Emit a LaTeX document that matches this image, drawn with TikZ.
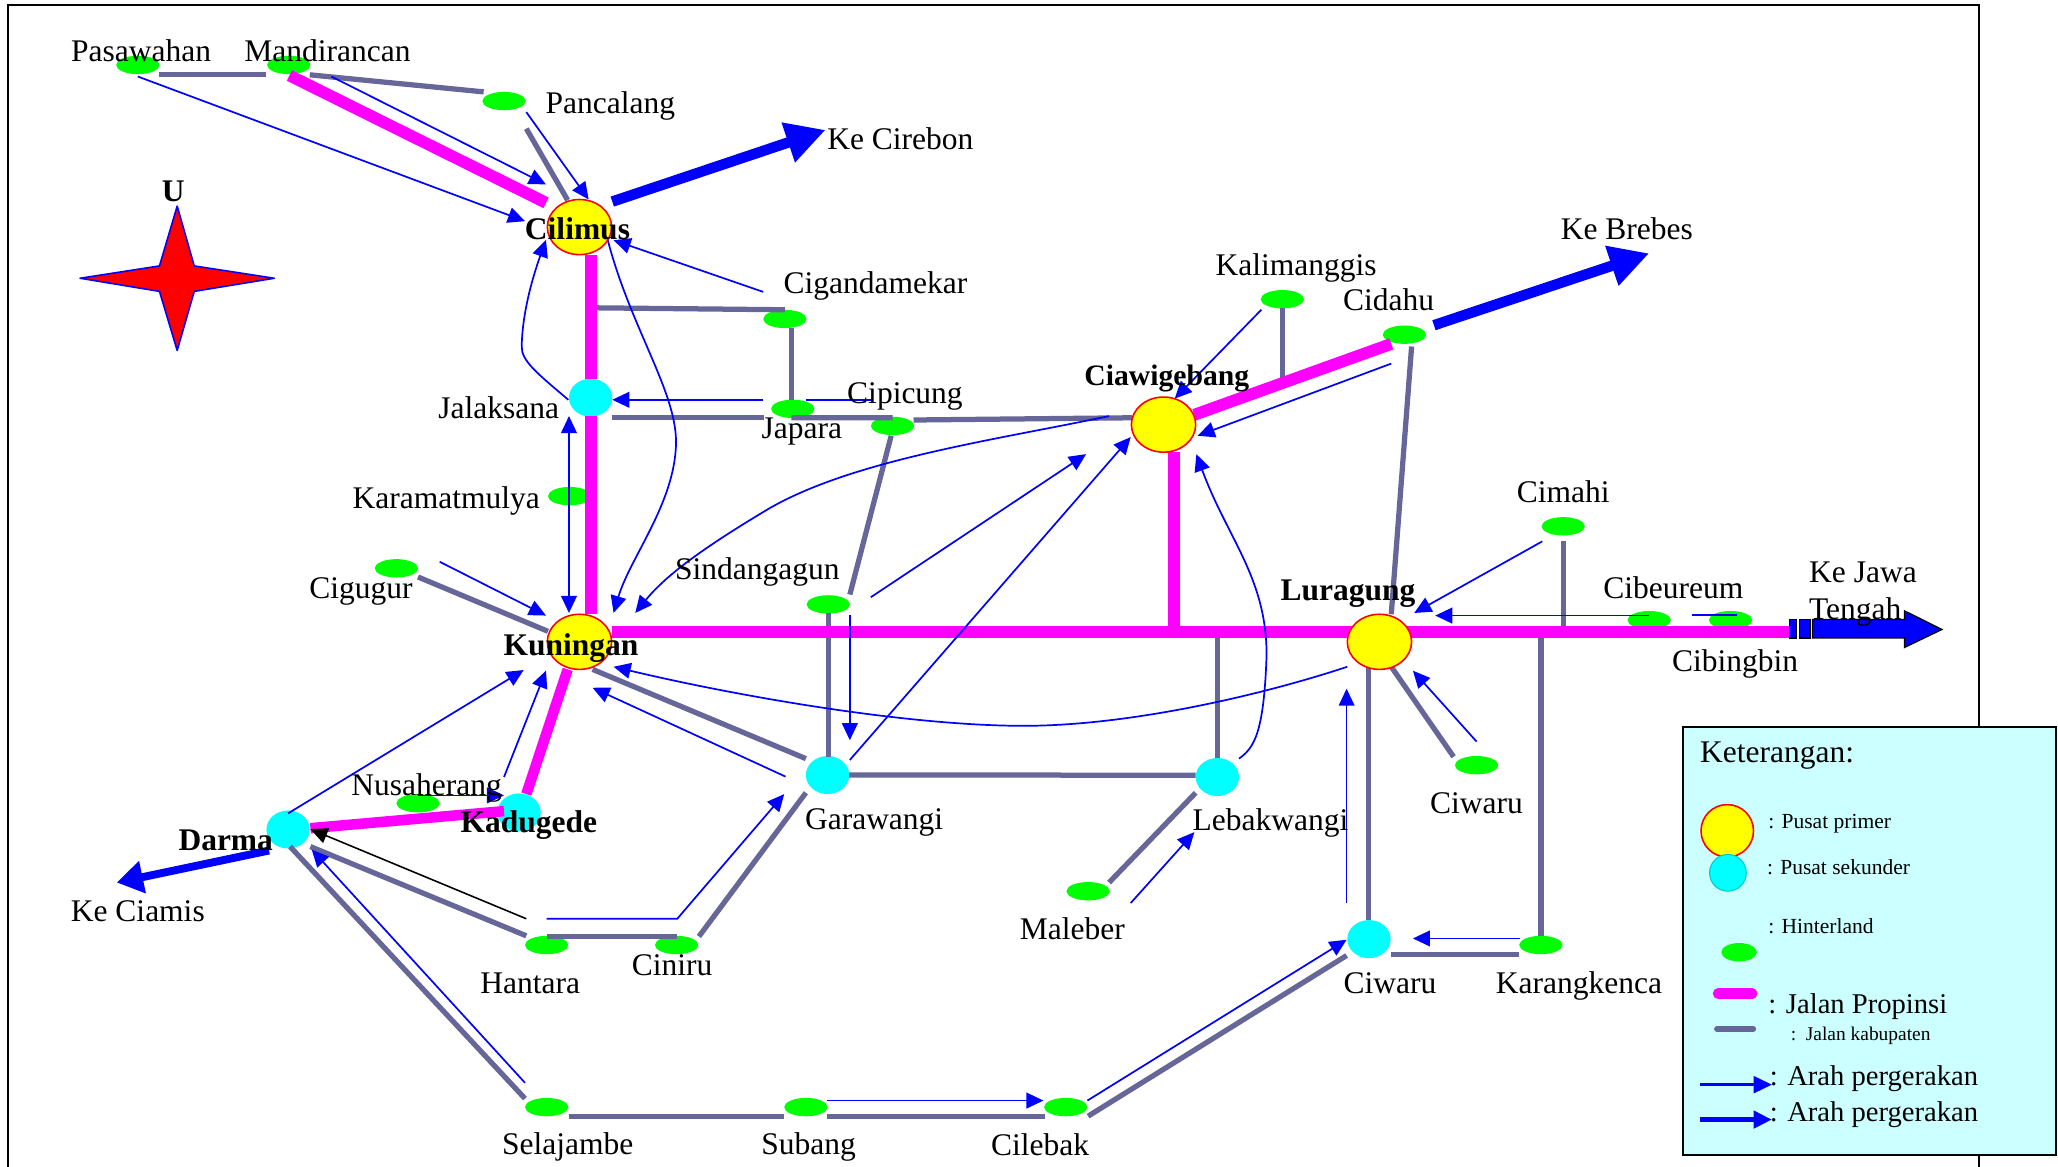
\documentclass[tikz,border=0pt]{standalone}
\usepackage{fontspec}
\setmainfont{Liberation Serif}
\usetikzlibrary{arrows.meta,calc}
\definecolor{roadgray}{HTML}{666699}
\definecolor{propinsi}{HTML}{FF00FF}
\definecolor{hgreen}{HTML}{00FF00}
\definecolor{scyan}{HTML}{00FFFF}
\definecolor{pyellow}{HTML}{FFFF00}
\definecolor{pblue}{HTML}{0000FF}
\definecolor{legendbg}{HTML}{CCFFFF}
\usetikzlibrary{shapes.geometric}
\tikzset{
  hinter/.style={ellipse,fill=hgreen,inner sep=0pt,minimum width=16.5pt,minimum height=7pt},
  sekunder/.style={ellipse,fill=scyan,inner sep=0pt,minimum width=16.5pt,minimum height=14.5pt},
  primer/.style={ellipse,fill=pyellow,draw=red,line width=0.6pt,inner sep=0pt,minimum width=24.5pt,minimum height=21pt},
  kab/.style={draw=roadgray,line width=2pt},
  prop/.style={draw=propinsi,line width=4.5pt},
  arah/.style={draw=pblue,line width=0.65pt,-{Triangle[length=6.5pt,width=6pt,fill=pblue]}},
  arahplain/.style={draw=pblue,line width=0.65pt},
  arahb/.style={draw=black,line width=0.6pt,-{Triangle[length=6.5pt,width=6pt,fill=black]}},
  besar/.style={draw=pblue,line width=4pt,-{Triangle[length=15pt,width=15pt,fill=pblue]}},
  lab/.style={inner sep=0pt,font=\fontsize{12}{14}\selectfont,text=black},
  labb/.style={inner sep=0pt,font=\fontsize{12}{14}\selectfont\bfseries,text=black},
  legk/.style={inner sep=0pt,anchor=west,font=\fontsize{8.2}{10}\selectfont},
  legb/.style={inner sep=0pt,anchor=west,font=\fontsize{10.9}{13}\selectfont},
}
\begin{document}
\begin{tikzpicture}[x=0.5pt,y=-0.5pt]
\useasboundingbox (0,0) rectangle (1568,889);
% page frame
\draw[black,line width=0.9pt] (6,889) -- (6,3.8) -- (1508,3.8) -- (1508,889);
% nodes
\path
 node[hinter] (pas) at (105,49.5) {}
 node[hinter] (man) at (220,49.5) {}
 node[hinter] (pan) at (384,77) {}
 node[hinter] (cig) at (598,243) {}
 node[hinter] (jap) at (604,311.5) {}
 node[hinter] (cip) at (680,324.5) {}
 node[hinter] (kar) at (434,378) {}
 node[hinter] (gug) at (302,433) {}
 node[hinter] (sin) at (631,460.5) {}
 node[hinter] (nus) at (318.5,612) {}
 node[hinter] (kal) at (977,228) {}
 node[hinter] (cid) at (1070,255) {}
 node[hinter] (cim) at (1191,401) {}
 node[hinter] (cbr) at (1256.5,472.5) {}
 node[hinter] (cbb) at (1318.5,472.5) {}
 node[hinter] (cwr) at (1125,583) {}
 node[hinter] (mal) at (829,679) {}
 node[hinter] (krk) at (1174,720) {}
 node[hinter] (han) at (416.5,720) {}
 node[hinter] (cin) at (515.5,720) {}
 node[hinter] (sel) at (416.5,843.5) {}
 node[hinter] (sub) at (614,843.5) {}
 node[hinter] (cle) at (812,843.5) {}
 node[sekunder] (jal) at (450,303) {}
 node[sekunder] (kad) at (395.5,619) {}
 node[sekunder] (dar) at (219.5,632) {}
 node[sekunder] (gar) at (630.5,590.5) {}
 node[sekunder] (leb) at (927.5,592) {}
 node[sekunder] (cwb) at (1043,715.5) {};
% kabupaten roads
\draw[kab] ($(pas)+(16,7)$) -- ($(man)+(-17,7)$);
\draw[kab] ($(man)+(16,7.5)$) -- ($(pan)+(-15.5,-7)$);
\draw[kab] ($(pan)+(17,21)$) -- (432.5,152.5);
\coordinate (cigj) at (450,234.5);
\draw[kab] (cigj) -- ($(cig)+(0,-7)$);
\draw[kab] ($(cig)+(5,7)$) -- ($(jap)+(-1,-6.5)$);
\draw[kab] ($(jal)+(16.5,15.3)$) -- ($(jap)+(-22,6.8)$);
\draw[kab] ($(jap)+(-1,6.8)$) -- ($(cip)+(0,-6.2)$);
\draw[kab] ($(cip)+(16,-4.5)$) -- (862.5,318.3);
\draw[kab] ($(cip)+(-1,7.5)$) -- ($(sin)+(16.5,-7.5)$);
\draw[kab] ($(sin)+(0,6.5)$) -- ($(gar)+(0.5,-13.5)$);
\draw[kab] ($(gar)+(16.5,0)$) -- ($(leb)+(-16.5,-1.4)$);
\draw[kab] (927.5,480.5) -- ($(leb)+(0,-14.5)$);
\draw[kab] ($(mal)+(16,-6.6)$) -- ($(leb)+(-16.5,12)$);
\draw[kab] (451.5,510) -- ($(gar)+(-16.5,-12.5)$);
\draw[kab] ($(gar)+(-16.5,13.5)$) -- ($(cin)+(17,-6.5)$);
\draw[kab] ($(han)+(0,-6.5)$) -- ($(cin)+(0,-6.5)$);
\draw[kab] ($(han)+(-15.5,-7)$) -- ($(dar)+(17,13)$);
\draw[kab] ($(sel)+(-16.5,-6.5)$) -- ($(dar)+(1.5,13)$);
\draw[kab] ($(sel)+(17,6.9)$) -- ($(sub)+(-16.5,6.9)$);
\draw[kab] ($(sub)+(16,6.9)$) -- ($(cle)+(-16,6.9)$);
\draw[kab] ($(cle)+(17,6.9)$) -- ($(cwb)+(-17,12.5)$);
\draw[kab] ($(cwb)+(16.5,11.5)$) -- ($(krk)+(-16.5,7)$);
\draw[kab] ($(krk)+(0,-6.5)$) -- (1174,480.5);
\draw[kab] ($(cwb)+(-0.5,-14.5)$) -- (1042.5,508);
\draw[kab] (1060,508) -- ($(cwr)+(-17.5,-6.4)$);
\draw[kab] ($(cim)+(0.5,11.5)$) -- (1191.5,480);
\draw[kab] ($(cid)+(5.5,9)$) -- (1060,468);
\draw[kab] ($(kal)+(0,6.7)$) -- (977,288.6);
\draw[kab] ($(gug)+(16.5,6.6)$) -- (417.5,481);
% provincial roads
\draw[prop] ($(man)+(0.5,8)$) -- (416,154.5);
\draw[prop] (450,194.5) -- ($(jal)+(0,-14)$);
\draw[prop] ($(jal)+(0,14)$) -- (450,468);
\draw[prop] (466.5,481.7) -- (1030,481.7);
\draw[prop] (1070,481.4) -- (1363.5,481.4);
\draw[prop] (894.5,344.5) -- (894.5,481);
\draw[prop] (910,316) -- ($(cid)+(-10,7)$);
\draw[prop,line width=4pt] (432.5,510) -- ($(kad)+(5.5,-14)$);
\draw[prop,line width=4pt] ($(kad)+(-11.5,-1)$) -- ($(dar)+(17,-1)$);
% large arrows
\draw[besar] (466.5,153.6) -- (629,99) node[pos=1] (ecir) {};
\draw[besar] ($(cid)+(22.5,-7.2)$) -- (1256.5,193) node[pos=1] (ebre) {};
\draw[besar,line width=3pt,-{Triangle[length=10pt,width=12pt,fill=pblue]}] ($(dar)+(-14.5,16)$) -- (89,672.4) node[pos=1] (ecia) {};
% thin arrows
\draw[arah] ($(pas)+(0,8.8)$) -- (400,168.5);
\draw[arah] ($(man)+(32.5,8.8)$) -- (416,140.5);
\draw[arah] ($(pan)+(17,8.4)$) -- (448.5,152);
\draw[arah] ($(cig)+(-16.5,-20.6)$) -- (467.5,183);
\draw[arah] ($(jal)+(-17,1.6)$) .. controls (410,285) and (397,275) .. (397.5,263.8) .. controls (398,235) and (408,205) .. (416,182.8);
\draw[arah] (462.5,180.7) .. controls (480,250) and (517,300) .. (515,340) .. controls (513,385) and (480,425) .. (467.5,467);
\draw[arah] ($(jap)+(-22.5,-6.9)$) -- ($(jal)+(16.5,1.6)$);
\draw[arahplain] ($(jap)+(10,-6.9)$) -- ($(cip)+(-15,-19.9)$);
\draw[draw=pblue,line width=0.65pt,{Triangle[length=6.5pt,width=6pt,fill=pblue]}-{Triangle[length=6.5pt,width=6pt,fill=pblue]}] (433.5,317) -- (433.5,467);
\draw[arah] ($(gug)+(33,-5)$) -- (416,469);
\draw[arah] (845,317) .. controls (760,335) and (650,350) .. (585,388) .. controls (545,412) and (510,435) .. (484,467);
\draw[arah] ($(sin)+(32.5,-5.5)$) -- (827.5,346);
\draw[arah] ($(gar)+(17,-11.5)$) -- (861.5,333);
\draw[arah] ($(sin)+(16.5,8)$) -- ($(gar)+(17,-26.5)$);
\draw[arah] ($(gar)+(-32,1.2)$) -- (451.5,524);
\draw[arah] (1026.5,508) .. controls (960,530) and (860,553) .. (780,553) .. controls (690,553) and (560,530) .. (467.5,508);
\draw[arah] ($(leb)+(16.5,-14)$) .. controls (955,570) and (963,560) .. (965,499) .. controls (965,440) and (935,410) .. (911.5,346);
\draw[arah] ($(cid)+(-10,22)$) -- (912.5,332);
\draw[arah] ($(kal)+(-16,8)$) -- (895,303.7);
\draw[arah] ($(cim)+(-16,11.5)$) -- (1077.5,467);
\draw[arah] ($(cbr)+(0,-3.5)$) -- (1093.5,469);
\draw[arahplain] ($(cbb)+(-29.5,-4)$) -- ($(cbb)+(5,-4)$);
\draw[arah] ($(cwr)+(0,-18)$) -- (1076.5,511);
\draw[arah] ($(cwb)+(-17,-27.5)$) -- (1026,524.7);
\draw[arah] ($(krk)+(-16,-5)$) -- ($(cwb)+(33.5,-0.5)$);
\draw[arah] ($(mal)+(32.5,9)$) -- ($(leb)+(-17.5,42)$);
\draw[arah] ($(cle)+(16.5,-5)$) -- ($(cwb)+(-17,0.5)$);
\draw[arah] ($(sub)+(16,-5)$) -- ($(cle)+(-17,-5)$);
\draw[arah] ($(sel)+(-16.5,-18.5)$) -- ($(dar)+(18,15.3)$);
\draw[arahb] ($(han)+(-15.5,-20)$) -- ($(dar)+(17,-0.3)$);
\draw[arah] ($(han)+(0,-20)$) -- ($(cin)+(0.5,-20)$) -- ($(gar)+(-33,14.5)$);
\draw[arah] ($(dar)+(0,-12.3)$) -- (399,510.5);
\draw[arah] ($(kad)+(-11.5,-27)$) -- (416,511);
\draw[arah] ($(nus)+(0,-6)$) -- ($(kad)+(-11.5,-13)$);
% primary centres
\node[primer] (cil) at (441.5,173) {};
\node[primer] (kun) at (441.5,489) {};
\node[primer] (cia) at (886.5,323.5) {};
\node[primer] (lur) at (1051,489) {};
% Jawa Tengah block arrow
\filldraw[fill=pblue,draw=black,line width=0.5pt] (1363.5,472) rectangle (1368.5,486);
\filldraw[fill=pblue,draw=black,line width=0.5pt] (1371,472) rectangle (1379,486);
\filldraw[fill=pblue,draw=black,line width=0.5pt] (1381,472) -- (1451,472) -- (1451,465.4) -- (1479.5,479.6) -- (1451,493.3) -- (1451,486) -- (1381,486) -- cycle;
% compass
\filldraw[fill=red,draw=pblue,line width=0.6pt,line join=round] (135,157) -- (148,202.6) -- (209,212) -- (148,222) -- (135,267) -- (121.5,222) -- (61,212) -- (121.5,202.6) -- cycle;
% labels
\node[labb] (tu) at (132,146) {U};
\node[lab] (tpas) at (107.5,38.5) {Pasawahan};
\node[lab] (tman) at (249.5,38.5) {Mandirancan};
\node[lab] (tpan) at (465,80.5) {Pancalang};
\node[lab] (tcir) at (686,105.5) {Ke Cirebon};
\node[labb] (tcil) at (440,174) {Cilimus};
\node[lab] (tcig) at (667,218) {Cigandamekar};
\node[lab] (tkal) at (987.5,204) {Kalimanggis};
\node[lab] (tcid) at (1058,228) {Cidahu};
\node[lab] (tbre) at (1239.5,174) {Ke Brebes};
\node[labb,font=\fontsize{11.3}{14}\selectfont\bfseries] (tcia) at (889,288.5) {Ciawigebang};
\node[lab] (tcip) at (689.5,302) {Cipicung};
\node[lab] (tjal) at (380,311) {Jalaksana};
\node[lab] (tjap) at (611,329) {Japara};
\node[lab] (tkar) at (340,382) {Karamatmulya};
\node[lab] (tgug) at (275,450.5) {Cigugur};
\node[lab] (tsin) at (577,436) {Sindangagun};
\node[labb] (tlur) at (1027,452) {Luragung};
\node[lab] (tcim) at (1191,375) {Cimahi};
\node[lab] (tcbr) at (1275,448) {Cibeureum};
\node[lab,anchor=west] (tjw1) at (1378,436) {Ke Jawa};
\node[lab,anchor=west] (tjw2) at (1378,466) {Tengah};
\node[labb] (tkun) at (435,493.5) {Kuningan};
\node[lab] (tcbb) at (1322,506) {Cibingbin};
\node[lab] (tnus) at (325,600.5) {Nusaherang};
\node[labb] (tkad) at (403,628.5) {Kadugede};
\node[labb] (tdar) at (172,640) {Darma};
\node[lab] (tgar) at (666,627) {Garawangi};
\node[lab] (tleb) at (968,627) {Lebakwangi};
\node[lab] (tcwr) at (1125,612) {Ciwaru};
\node[lab] (tcia2) at (105,694) {Ke Ciamis};
\node[lab] (tmal) at (817,707.5) {Maleber};
\node[lab] (than) at (404,749) {Hantara};
\node[lab] (tcin) at (512,735.5) {Ciniru};
\node[lab] (tcwb) at (1059,749) {Ciwaru};
\node[lab] (tkrk) at (1203,751) {Karangkenca};
\node[lab] (tsel) at (432.5,874) {Selajambe};
\node[lab] (tsub) at (616,874) {Subang};
\node[lab] (tcle) at (792.5,872) {Cilebak};
% legend
\filldraw[fill=legendbg,draw=black,line width=0.7pt] (1282,553.8) rectangle (1566.5,879.8);
\node[lab,anchor=west] (lket) at (1295,576) {Keterangan:};
\node[primer,minimum width=20pt,minimum height=20pt] (lpri) at (1316,633) {};
\node[sekunder,draw=scyan!80!black,line width=0.4pt,minimum width=14pt,minimum height=14pt] (lsek) at (1316.5,665) {};
\node[hinter,minimum width=13.5pt] (lhin) at (1325,725.5) {};
\node[legk] (tpri) at (1347,627.5) {: Pusat primer};
\node[legk] (tsek) at (1346,661) {: Pusat sekunder};
\node[legk] (thin) at (1347,706) {: Hinterland};
\coordinate (lm1) at (1309,757);
\coordinate (lm2) at (1335,757);
\draw[prop,line width=4pt,line cap=round] (lm1) -- (lm2);
\coordinate (lg1) at (1308,784);
\coordinate (lg2) at (1336,784);
\draw[kab,line cap=round] (lg1) -- (lg2);
\node[legb] (tjp) at (1347,767) {: Jalan Propinsi};
\node[legk,font=\fontsize{7.4}{9}\selectfont] (tjk) at (1364,789) {:\enspace Jalan kabupaten};
\coordinate (la1) at (1295,826.4);
\coordinate (la2) at (1350,826.4);
\draw[draw=pblue,line width=0.9pt,-{Triangle[length=7pt,width=6.5pt,fill=pblue]}] (la1) -- (la2);
\node[legb] (ta1) at (1348,821.5) {: Arah pergerakan};
\coordinate (lb1) at (1295,853);
\coordinate (lb2) at (1350,853);
\draw[draw=pblue,line width=2pt,-{Triangle[length=7pt,width=6.5pt,fill=pblue]}] (lb1) -- (lb2);
\node[legb] (ta2) at (1348,849.5) {: Arah pergerakan};
\end{tikzpicture}
\end{document}
